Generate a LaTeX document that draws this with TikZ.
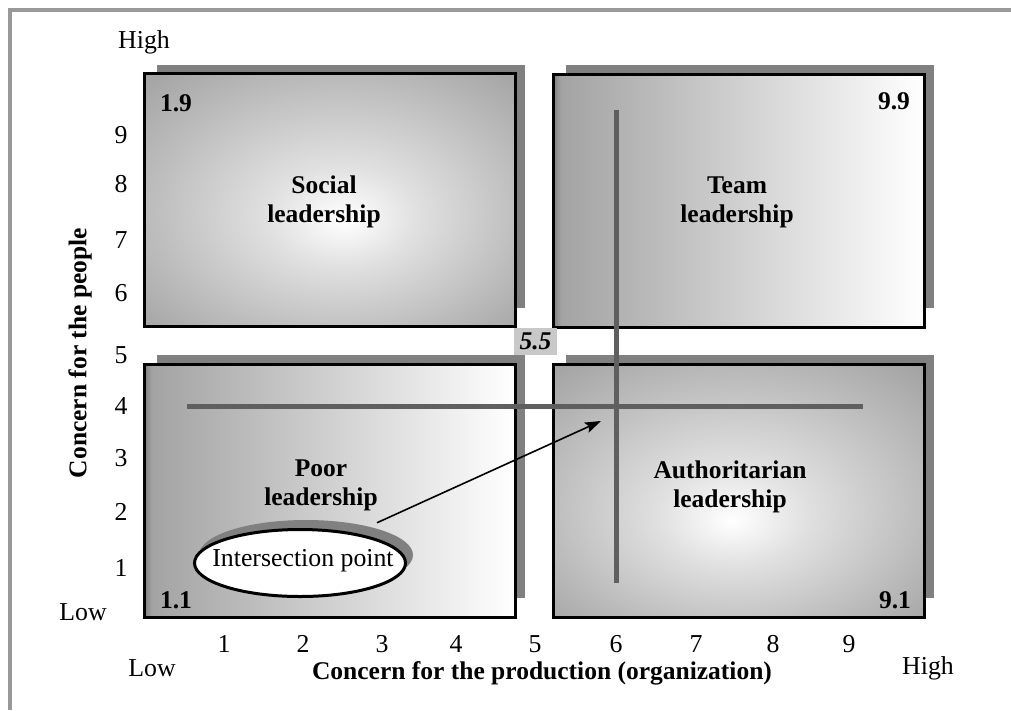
\documentclass[tikz,border=0pt]{standalone}
\usepackage{fontspec}
\setmainfont{Liberation Serif}
\usetikzlibrary{shapes.geometric,arrows.meta}
\definecolor{frameline}{HTML}{999999}
\definecolor{boxshade}{HTML}{808080}
\definecolor{crossline}{HTML}{5F5F5F}
\definecolor{tagfill}{HTML}{C8C8C8}
\pgfdeclarehorizontalshading{quadlin}{100bp}{color(0bp)=(black!50); color(25bp)=(black!50); color(26bp)=(black!36); color(75bp)=(white); color(100bp)=(white)}
\pgfdeclareradialshading{quadrad}{\pgfpoint{2bp}{-4bp}}{color(0bp)=(white); color(10bp)=(black!12); color(25bp)=(black!26); color(36bp)=(black!36); color(50bp)=(black!36)}
\pgfdeclareradialshading{quadradlow}{\pgfpoint{-1bp}{-6bp}}{color(0bp)=(white); color(10bp)=(black!12); color(25bp)=(black!26); color(36bp)=(black!36); color(50bp)=(black!36)}
\begin{document}
\begin{tikzpicture}[x=1pt,y=-1pt]
      \tikzset{quad/.style={draw=black, line width=3pt, minimum width=371pt, minimum height=253pt, inner sep=0pt},
               tick/.style={font=\fontsize{25.8}{29}\selectfont, inner sep=0pt},
               title/.style={font=\fontsize{25.5}{29}\selectfont\bfseries, align=center, inner sep=0pt},
               grade/.style={font=\fontsize{25.5}{29}\selectfont\bfseries, inner sep=0pt},
               cross/.style={draw=crossline, line width=5pt},
               ring/.style={ellipse, inner sep=0pt, minimum width=214pt, minimum height=70pt},
               pointer/.style={draw=black, line width=1.6pt, -{Stealth[length=16pt,width=11pt,inset=3pt]}}}
      \useasboundingbox (0,0) rectangle (1011,710);
%% Frame
      \draw[frameline, line width=4pt] (10,710) -- (10,9.5) -- (1011,9.5);
%% Quadrants
	%shadows
      	\foreach \x/\y in {157/65, 566/65, 157/355, 566/355}
      		\fill[boxshade] (\x,\y) rectangle +(368,243);
	%boxes
      	\node[quad, shading=quadrad] (social) at (330,200) {};
      	\node[quad, shading=quadlin] (team) at (739,201) {};
      	\node[quad, shading=quadlin] (poor) at (330,491) {};
      	\node[quad, shading=quadradlow] (auth) at (739,491) {};
	%names
      	\node[title] (socialname) at (324,202) {Social\\leadership};
      	\node[title] (teamname) at (737,202) {Team\\leadership};
      	\node[title] (poorname) at (321,485) {Poor\\leadership};
      	\node[title] (authname) at (730,487) {Authoritarian\\leadership};
      	\node[grade] (g19) at (176,103) {1.9};
      	\node[grade] (g99) at (894,101) {9.9};
      	\node[grade] (g11) at (176,600) {1.1};
      	\node[grade] (g91) at (895,600) {9.1};
      	\node[fill=tagfill, minimum width=43pt, minimum height=27pt, inner sep=0pt,
      	      font=\fontsize{25.5}{29}\selectfont\bfseries\itshape] (mid) at (535.5,341.5) {5.5};
%% Cross
      	\coordinate (hleft) at (187,406);
      	\coordinate (hright) at (863,406);
      	\coordinate (vtop) at (616,110);
      	\coordinate (vbottom) at (616,583);
      	\path[cross] (hleft) -- (hright);
      	\path[cross] (vtop) -- (vbottom);
%% Axes
      	\foreach \n/\y in {9/135, 8/184, 7/240, 6/293, 5/355, 4/406, 3/458, 2/512, 1/568}
      		\node[tick] (ytick\n) at (121,\y) {\n};
      	\foreach \n/\x in {1/224, 2/303, 3/382, 4/456, 5/535, 6/616, 7/696, 8/773, 9/849}
      		\node[tick] (xtick\n) at (\x,644) {\n};
      	\node[tick] (yhigh) at (144,42) {High};
      	\node[tick] (ylow) at (83,612) {Low};
      	\node[tick] (xlow) at (152,668) {Low};
      	\node[tick] (xhigh) at (928,668) {High};
      	\node[grade, rotate=90] (ylabel) at (80,353) {Concern for the people};
      	\node[grade] (xlabel) at (542,673) {Concern for the production (organization)};
%% Intersection point
      	\node[ring, fill=boxshade] (isecshade) at (306,555) {};
      	\node[ring, draw=black, line width=3pt, fill=white, minimum width=211pt, minimum height=67pt] (isec) at (300,563) {};
      	\node[tick] (isectext) at (303,561) {Intersection point};
      	\coordinate (aim) at (601,421);
      	\path[pointer, shorten <=9pt] (isecshade) -- (aim);

\end{tikzpicture}
\end{document}
